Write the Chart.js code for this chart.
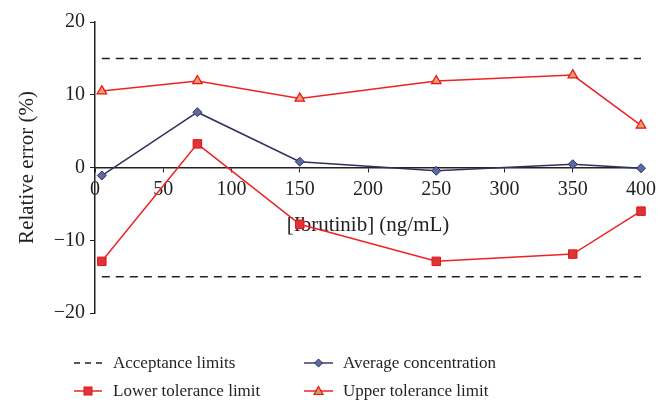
<!DOCTYPE html>
<html>
<head>
<meta charset="utf-8">
<script src="https://cdn.jsdelivr.net/npm/chart.js@4/dist/chart.umd.min.js"></script>
<style>
  body { margin: 0; background: #fff; }
  #wrap { position: relative; width: 670px; height: 418px; }
  #legend { position: absolute; left: 0; top: 350px; width: 670px; font-family: 'Liberation Serif', serif; font-size: 17px; color: #231f20; }
  .item { position: absolute; height: 24px; line-height: 24px; white-space: nowrap; }
  .item svg { position: absolute; left: 0; top: 4px; }
  .item span { position: absolute; left: 39px; top: 0; }
</style>
</head>
<body>
<div id="wrap">
  <canvas id="errorChart" width="670" height="418"></canvas>
  <div id="legend">
    <div class="item" style="left:74px; top:1px;">
      <svg width="30" height="16"><line x1="0" y1="8" x2="28" y2="8" stroke="#222" stroke-width="1.5" stroke-dasharray="6,5"/></svg>
      <span>Acceptance limits</span>
    </div>
    <div class="item" style="left:304px; top:1px;">
      <svg width="30" height="16"><line x1="0" y1="8" x2="29" y2="8" stroke="#3a3a66" stroke-width="1.5"/><polygon points="14.5,4 18.5,8 14.5,12 10.5,8" fill="#5a6aa8" stroke="#2a2f5a" stroke-width="1"/></svg>
      <span>Average concentration</span>
    </div>
    <div class="item" style="left:74px; top:29px;">
      <svg width="30" height="16"><line x1="0" y1="8" x2="28" y2="8" stroke="#ee2222" stroke-width="1.5"/><rect x="10" y="4" width="8" height="8" fill="#d8363b" stroke="#ee1111" stroke-width="1"/></svg>
      <span>Lower tolerance limit</span>
    </div>
    <div class="item" style="left:304px; top:29px;">
      <svg width="30" height="16"><line x1="0" y1="8" x2="29" y2="8" stroke="#ee2222" stroke-width="1.5"/><polygon points="14.5,3.5 19,11.5 10,11.5" fill="#c8a060" stroke="#ee1111" stroke-width="1.2"/></svg>
      <span>Upper tolerance limit</span>
    </div>
  </div>
</div>
<script>
// values
const concentrations = [5, 75, 150, 250, 350, 400];
const averageConc = [-1.1, 7.6, 0.8, -0.45, 0.45, -0.1];
const lowerTolerance = [-12.9, 3.25, -7.8, -12.9, -11.9, -6.0];
const upperTolerance = [10.5, 11.9, 9.5, 11.9, 12.7, 5.8];
const acceptanceRange = [5, 400];
const acceptanceLimit = 15;
const xTicks = [0, 50, 100, 150, 200, 250, 300, 350, 400];
const yTicks = [-20, -10, 0, 10, 20];

const toPoints = (xs, ys) => xs.map((x, i) => ({ x: x, y: ys[i] }));
const serif = "'Liberation Serif', 'Times New Roman', serif";
const ink = '#231f20';

const ctx = document.getElementById('errorChart').getContext('2d');
new Chart(ctx, {
  type: 'line',
  data: {
    datasets: [
      {
        label: 'Acceptance limits',
        data: acceptanceRange.map(x => ({ x: x, y: acceptanceLimit })),
        borderColor: '#222',
        borderWidth: 1.5,
        borderDash: [8, 6],
        pointRadius: 0
      },
      {
        label: 'Acceptance limits (low)',
        data: acceptanceRange.map(x => ({ x: x, y: -acceptanceLimit })),
        borderColor: '#222',
        borderWidth: 1.5,
        borderDash: [8, 6],
        pointRadius: 0
      },
      {
        label: 'Average concentration',
        data: toPoints(concentrations, averageConc),
        borderColor: '#30305c',
        borderWidth: 1.5,
        pointStyle: 'rectRot',
        pointRadius: 4.5,
        pointBackgroundColor: '#5a6aa8',
        pointBorderColor: '#2a2f5a',
        pointBorderWidth: 1,
        clip: false
      },
      {
        label: 'Lower tolerance limit',
        data: toPoints(concentrations, lowerTolerance),
        borderColor: '#ee2222',
        borderWidth: 1.5,
        pointStyle: 'rect',
        pointRadius: 6,
        pointBackgroundColor: '#d8363b',
        pointBorderColor: '#ee1111',
        pointBorderWidth: 1,
        clip: false
      },
      {
        label: 'Upper tolerance limit',
        data: toPoints(concentrations, upperTolerance),
        borderColor: '#ee2222',
        borderWidth: 1.5,
        pointStyle: 'triangle',
        pointRadius: 5.5,
        pointBackgroundColor: '#e6a070',
        pointBorderColor: '#ee1111',
        pointBorderWidth: 1.2,
        clip: false
      }
    ]
  },
  options: {
    responsive: false,
    animation: false,
    layout: { padding: { top: 22, right: 29, bottom: 105, left: 0 } },
    plugins: { legend: { display: false }, tooltip: { enabled: false } },
    scales: {
      x: {
        type: 'linear',
        position: { y: 0 },
        min: 0,
        max: 400,
        afterBuildTicks: scale => { scale.ticks = xTicks.map(v => ({ value: v })); },
        grid: { drawOnChartArea: false, tickLength: 4, color: '#222' },
        border: { color: '#222', width: 1.5 },
        ticks: { color: ink, font: { family: serif, size: 20 }, padding: 6, maxRotation: 0 },
        title: { display: true, text: '[Ibrutinib] (ng/mL)', color: ink, font: { family: serif, size: 21 }, padding: { top: 5, bottom: 0 } }
      },
      y: {
        min: -20,
        max: 20,
        afterBuildTicks: scale => { scale.ticks = yTicks.map(v => ({ value: v })); },
        afterFit: scale => { scale.width = 95; },
        grid: { drawOnChartArea: false, tickLength: 5, color: '#222' },
        border: { color: '#222', width: 1.5 },
        ticks: {
          color: ink,
          font: { family: serif, size: 20 },
          padding: 5,
          callback: v => String(v).replace('-', '\u2212')
        },
        title: { display: true, text: 'Relative error (%)', color: ink, font: { family: serif, size: 21 }, padding: { top: 15, bottom: 0 } }
      }
    }
  }
});
</script>
</body>
</html>
